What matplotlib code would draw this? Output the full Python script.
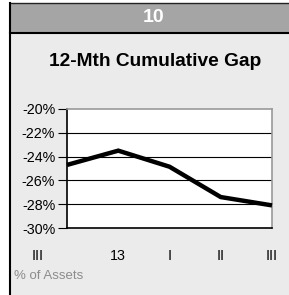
import matplotlib
matplotlib.use("Agg")
import matplotlib.pyplot as plt
import matplotlib.transforms as mtransforms
from matplotlib.patches import Rectangle
from matplotlib.lines import Line2D

plt.rcParams['font.family'] = ['Liberation Sans', 'DejaVu Sans']

categories = ["III", "13", "I", "II", "III"]
values = [-24.7, -23.5, -24.85, -27.4, -28.1]
yticks = [-20, -22, -24, -26, -28, -30]
ytick_labels = ["-20%", "-22%", "-24%", "-26%", "-28%", "-30%"]
header = "10"
title = "12-Mth Cumulative Gap"
footnote = "% of Assets"

W, H = 289, 295
fig = plt.figure(figsize=(W/100, H/100), dpi=100)
fig.patch.set_facecolor("white")

def fx(px):
    return px / W

def fy(py):
    return 1 - py / H

PL = 9.5   # panel left edge (px)
PT = 3     # panel top edge (px)
HB = 32.5  # header bottom (px)

# panel body
fig.add_artist(Rectangle((fx(PL), 0), 1 - fx(PL), fy(PT), transform=fig.transFigure,
                         facecolor="#ebebeb", edgecolor="none", zorder=0))
# header band
fig.add_artist(Rectangle((fx(PL), fy(HB)), 1 - fx(PL), fy(PT) - fy(HB),
                         transform=fig.transFigure,
                         facecolor="#a5a5a5", edgecolor="none", zorder=0))
fig.add_artist(Line2D([fx(PL), 1], [fy(HB), fy(HB)], transform=fig.transFigure,
                      color="black", linewidth=1.5, zorder=5))
fig.add_artist(Line2D([fx(PL), 1], [fy(PT), fy(PT)], transform=fig.transFigure,
                      color="#222222", linewidth=1.0, zorder=5))
fig.add_artist(Line2D([fx(PL), fx(PL)], [0, fy(PT)], transform=fig.transFigure,
                      color="black", linewidth=1.5, zorder=5))

fig.text(fx(154), fy(17.5), header, ha="center", va="center", color="white",
         fontsize=14, fontweight="bold")
fig.text(fx(155), fy(62), title, ha="center", va="center", color="black",
         fontsize=13.8, fontweight="bold")
fig.text(fx(14), fy(276), footnote, ha="left", va="center", color="#8c8c8c",
         fontsize=9.5)

left, right = 67 / W, 272 / W
top, bottom = fy(109), fy(228)
ax = fig.add_axes([left, bottom, right - left, top - bottom])
ax.set_facecolor("white")

x = list(range(len(categories)))
ax.plot(x, values, color="black", linewidth=3.2, solid_capstyle="butt",
        solid_joinstyle="miter", clip_on=False, zorder=3)

ax.set_xlim(0, len(categories) - 1)
ax.set_ylim(-30, -20)
ax.set_yticks(yticks)
ax.set_yticklabels(ytick_labels, fontsize=10.3)
for yv in yticks[1:-1]:
    ax.axhline(yv, color="black", linewidth=0.8, zorder=1)

ax.set_xticks([])
label_x = [-0.57] + x[1:]
trans = mtransforms.blended_transform_factory(ax.transData, fig.transFigure)
for lx, lab in zip(label_x, categories):
    ax.text(lx, fy(256), lab, ha="center", va="center", fontsize=10.3,
            transform=trans, clip_on=False)

ax.tick_params(axis="y", direction="out", length=6.5, width=0.8, pad=2, colors="black")
ax.spines["left"].set_color("black")
ax.spines["bottom"].set_color("black")
ax.spines["top"].set_color("#999999")
ax.spines["right"].set_color("#999999")
for s in ax.spines.values():
    s.set_linewidth(1.2)

fig.savefig("out.png", dpi=100, facecolor=fig.get_facecolor())
